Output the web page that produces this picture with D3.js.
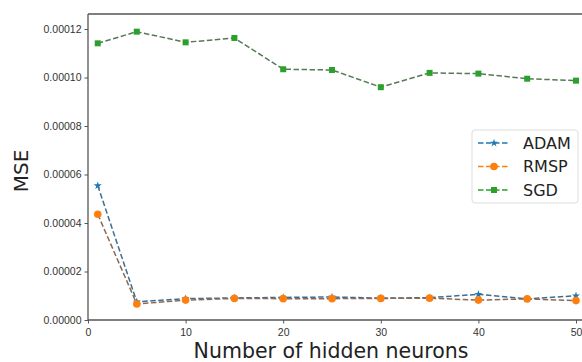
<!DOCTYPE html>
<html>
<head>
<meta charset="utf-8">
<script src="https://cdn.jsdelivr.net/npm/d3@7"></script>
<style>
  body { margin: 0; background: #fff; }
  svg { display: block; font-family: "DejaVu Sans", sans-serif; }
</style>
</head>
<body>
<div id="chart"></div>
<script>
// data (MSE vs hidden neurons)
const neurons = [1, 5, 10, 15, 20, 25, 30, 35, 40, 45, 50]
const adam = [5.54e-5, 0.75e-5, 0.88e-5, 0.91e-5, 0.93e-5, 0.95e-5, 0.90e-5, 0.92e-5, 1.06e-5, 0.87e-5, 1.00e-5]
const rmsp = [4.36e-5, 0.66e-5, 0.82e-5, 0.89e-5, 0.88e-5, 0.88e-5, 0.89e-5, 0.90e-5, 0.82e-5, 0.87e-5, 0.80e-5]
const sgd = [11.41e-5, 11.89e-5, 11.45e-5, 11.63e-5, 10.34e-5, 10.31e-5, 9.60e-5, 10.19e-5, 10.16e-5, 9.95e-5, 9.87e-5]
const xTicks = [0, 10, 20, 30, 40, 50]
const yTicks = [0, 0.00002, 0.00004, 0.00006, 0.00008, 0.00010, 0.00012]

const width = 582
const height = 362
const plotLeft = 88, plotTop = 14, plotBottom = 320

const svg = d3.select('#chart').append('svg').attr('width', width).attr('height', height)

const x = d3.scaleLinear().domain([0, 50]).range([plotLeft, 576])
const y = d3.scaleLinear().domain([0, 0.00012]).range([plotBottom, 29])

// spines
svg.append('line').attr('x1', plotLeft).attr('x2', width).attr('y1', plotTop).attr('y2', plotTop)
  .attr('stroke', '#555').attr('stroke-width', 1.3)

const xAxis = svg.append('g').attr('transform', `translate(0,${plotBottom})`)
  .call(d3.axisBottom(x).tickValues(xTicks).tickFormat(d3.format('d')).tickSize(3.5).tickSizeOuter(0))
xAxis.select('.domain').attr('d', `M${plotLeft},0H${width}`)
const yAxis = svg.append('g').attr('transform', `translate(${plotLeft},0)`)
  .call(d3.axisLeft(y).tickValues(yTicks).tickFormat(d3.format('.5f')).tickSize(3.5).tickSizeOuter(0))
yAxis.select('.domain').attr('d', `M0,${plotTop}V${plotBottom}`)

svg.selectAll('.domain').attr('stroke', '#555').attr('stroke-width', 1.3)
svg.selectAll('.tick line').attr('stroke', '#555')
svg.selectAll('.tick text').attr('fill', '#333').style('font-size', '10.5px')
xAxis.selectAll('.tick text').attr('dy', '0.9em')

// axis titles
svg.append('text').attr('x', 331).attr('y', 358).attr('text-anchor', 'middle')
  .style('font-size', '20.5px').attr('fill', '#222').text('Number of hidden neurons')
svg.append('text').attr('transform', 'translate(28,171)rotate(-90)').attr('text-anchor', 'middle')
  .style('font-size', '20px').attr('fill', '#222').text('MSE')

// line = dashed, slightly greyed in the plot (as in the reference); legend keeps pure colour
const series = [
  { name: 'ADAM', values: adam, color: '#1f77b4', lineColor: '#3f6d92', marker: 'star' },
  { name: 'RMSP', values: rmsp, color: '#ff7f0e', lineColor: '#8a6a55', marker: 'circle' },
  { name: 'SGD', values: sgd, color: '#2ca02c', lineColor: '#557a55', marker: 'square' }
]

const line = d3.line().x(d => x(d[0])).y(d => y(d[1]))

function drawMarker (g, type, color) {
  if (type === 'circle') {
    g.append('circle').attr('r', 3.8).attr('fill', color)
  } else if (type === 'square') {
    g.append('rect').attr('x', -3).attr('y', -3).attr('width', 6).attr('height', 6).attr('fill', color)
  } else {
    g.append('path').attr('d', d3.symbol().type(d3.symbolStar).size(20)()).attr('fill', color)
  }
}

series.forEach(s => {
  const pts = neurons.map((n, i) => [n, s.values[i]])
  svg.append('path').datum(pts).attr('d', line)
    .attr('fill', 'none').attr('stroke', s.lineColor).attr('stroke-width', 1.5)
    .attr('stroke-dasharray', '5.5,2.5')
  pts.forEach(p => {
    const g = svg.append('g').attr('transform', `translate(${x(p[0])},${y(p[1])})`)
    drawMarker(g, s.marker, s.color)
  })
})

// legend
const legend = svg.append('g').attr('transform', 'translate(472,130)')
legend.append('rect').attr('width', 106).attr('height', 73).attr('rx', 3)
  .attr('fill', '#fff').attr('fill-opacity', 0.8).attr('stroke', '#ddd')
series.forEach((s, i) => {
  const yy = 13 + i * 23.5
  legend.append('line').attr('x1', 6).attr('x2', 38).attr('y1', yy).attr('y2', yy)
    .attr('stroke', s.color).attr('stroke-width', 1.5).attr('stroke-dasharray', '5.5,2.5')
  drawMarker(legend.append('g').attr('transform', `translate(22,${yy})`), s.marker, s.color)
  legend.append('text').attr('x', 51).attr('y', yy).attr('dy', '0.36em')
    .style('font-size', '16px').attr('fill', '#222').text(s.name)
})
</script>
</body>
</html>
